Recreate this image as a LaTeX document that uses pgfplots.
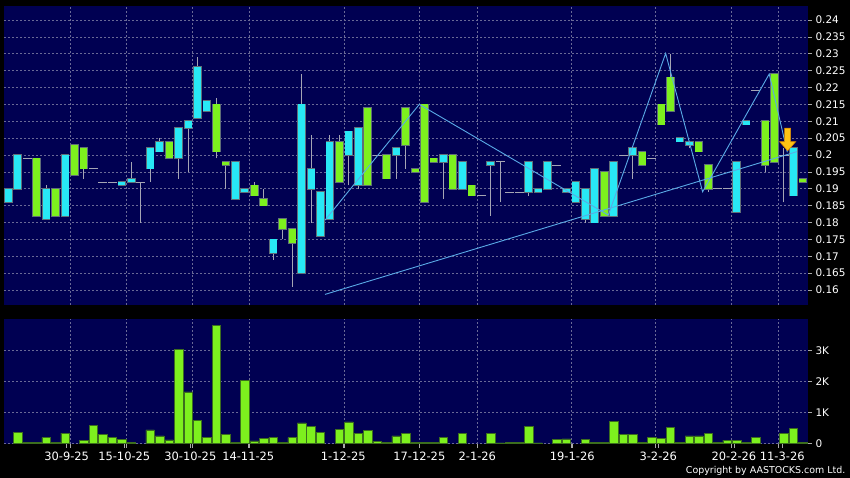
\documentclass[border=0pt]{standalone}
\usepackage{pgfplots}
\pgfplotsset{compat=1.18}
\usepackage{pgfplotstable}
\usepackage{fontspec}
\setmainfont{DejaVu Sans}

\definecolor{navy}{RGB}{0,0,82}
\definecolor{gridc}{RGB}{105,105,150}
\definecolor{cyanc}{RGB}{40,232,245}
\definecolor{greenc}{RGB}{125,240,30}
\definecolor{bordc}{RGB}{95,110,120}
\definecolor{wickc}{RGB}{165,165,180}
\definecolor{trendc}{RGB}{90,170,230}
\definecolor{volb}{RGB}{60,110,30}
\definecolor{tickc}{RGB}{170,170,170}
\definecolor{arrowc}{RGB}{255,196,20}
\definecolor{arrowd}{RGB}{220,140,0}

\pgfdeclareplotmark{dnarrow}{%
  \pgfpathmoveto{\pgfqpoint{0bp}{0bp}}%
  \pgfpathlineto{\pgfqpoint{8bp}{9bp}}%
  \pgfpathlineto{\pgfqpoint{3bp}{9bp}}%
  \pgfpathlineto{\pgfqpoint{3bp}{22.5bp}}%
  \pgfpathlineto{\pgfqpoint{-3bp}{22.5bp}}%
  \pgfpathlineto{\pgfqpoint{-3bp}{9bp}}%
  \pgfpathlineto{\pgfqpoint{-8bp}{9bp}}%
  \pgfpathclose
  \pgfusepathqfillstroke
}

% cyan candle bodies: index, body low, body high
\pgfplotstableread{
i lo hi
0 0.186 0.190
1 0.190 0.200
4 0.181 0.190
6 0.182 0.200
12 0.191 0.192
13 0.192 0.193
15 0.196 0.202
16 0.201 0.204
18 0.199 0.208
19 0.208 0.210
20 0.211 0.226
21 0.213 0.216
24 0.187 0.198
25 0.189 0.190
28 0.171 0.175
31 0.165 0.215
32 0.190 0.196
33 0.176 0.189
34 0.181 0.204
36 0.200 0.207
37 0.191 0.208
41 0.200 0.202
46 0.198 0.200
48 0.190 0.198
51 0.197 0.198
55 0.189 0.198
56 0.189 0.190
57 0.190 0.198
59 0.189 0.190
60 0.186 0.192
61 0.181 0.190
62 0.180 0.196
64 0.182 0.198
66 0.200 0.202
71 0.204 0.205
72 0.203 0.204
77 0.183 0.198
78 0.209 0.210
83 0.188 0.202
}\cyanB

% green candle bodies
\pgfplotstableread{
i lo hi
3 0.182 0.199
5 0.182 0.190
7 0.194 0.203
8 0.196 0.202
17 0.199 0.204
22 0.201 0.215
23 0.197 0.198
26 0.188 0.191
27 0.185 0.187
29 0.178 0.181
30 0.174 0.178
35 0.192 0.204
38 0.191 0.214
40 0.193 0.200
42 0.203 0.214
43 0.195 0.196
44 0.186 0.215
45 0.198 0.199
47 0.190 0.200
49 0.188 0.191
63 0.182 0.195
67 0.197 0.201
69 0.209 0.215
70 0.213 0.223
73 0.201 0.204
74 0.190 0.197
80 0.197 0.210
81 0.198 0.224
84 0.192 0.193
}\greenB

% wicks: index, low, high
\pgfplotstableread{
i lo hi
4 0.181 0.191
8 0.193 0.202
13 0.192 0.198
14 0.180 0.192
15 0.192 0.202
16 0.201 0.205
18 0.193 0.208
19 0.195 0.210
20 0.211 0.229
22 0.199 0.217
23 0.190 0.198
26 0.188 0.192
27 0.185 0.190
28 0.169 0.175
29 0.175 0.181
30 0.161 0.178
31 0.165 0.224
32 0.180 0.206
34 0.181 0.206
35 0.192 0.206
36 0.191 0.207
37 0.190 0.208
41 0.193 0.202
42 0.196 0.214
46 0.187 0.200
51 0.182 0.198
52 0.186 0.198
55 0.188 0.198
61 0.180 0.190
66 0.193 0.202
70 0.213 0.230
72 0.202 0.204
74 0.189 0.197
80 0.195 0.210
82 0.186 0.202
}\wicks

% flat candles (open = close)
\pgfplotstableread{
i v
2 0.199
9 0.196
10 0.192
11 0.192
14 0.192
39 0.200
50 0.188
52 0.198
53 0.189
54 0.189
58 0.197
65 0.200
68 0.199
75 0.190
76 0.190
79 0.219
82 0.200
}\dojis

% volume in thousands
\pgfplotstableread{
i v
1 0.35
2 0.02
3 0.04
4 0.18
5 0.04
6 0.33
8 0.09
9 0.57
10 0.29
11 0.20
12 0.13
13 0.03
15 0.43
16 0.24
17 0.11
18 3.03
19 1.66
20 0.75
21 0.18
22 3.81
23 0.29
24 0.02
25 2.04
26 0.08
27 0.15
28 0.18
29 0.02
30 0.18
31 0.66
32 0.54
33 0.34
35 0.44
36 0.69
37 0.31
38 0.42
39 0.06
40 0.02
41 0.24
42 0.32
43 0.04
44 0.02
45 0.03
46 0.20
48 0.33
51 0.33
52 0.01
53 0.02
54 0.02
55 0.55
56 0.01
58 0.12
59 0.14
61 0.12
62 0.03
63 0.03
64 0.70
65 0.28
66 0.28
67 0.03
68 0.20
69 0.17
70 0.52
71 0.02
72 0.24
73 0.24
74 0.32
75 0.02
76 0.10
77 0.10
78 0.02
79 0.20
82 0.31
83 0.49
84 0.02
}\vol

\pgfplotsset{
  chartbase/.style={
    scale only axis, width=804bp, anchor=south west,
    xmin=-0.455, xmax=84.54,
    axis background/.style={fill=navy},
    axis line style={draw=none},
    grid style={gridc, dash pattern=on 2bp off 2bp, line width=0.6bp},
    tick align=outside, major tick length=4bp,
    ytick pos=right, yticklabel pos=right,
    ytick style={draw=tickc, line width=0.6bp},
    yticklabel style={text=white, font=\fontsize{10.5}{12}\selectfont},
  },
}

\begin{document}
\begin{tikzpicture}
\path[use as bounding box, fill=black] (0,0) rectangle (850bp,478bp);

\begin{axis}[chartbase,
  at={(4bp,173bp)}, height=299bp,
  ymin=0.15556, ymax=0.24415,
  xtick={6.52,12.44,19.42,25.44,35.49,43.41,49.54,59.48,68.36,76.4,81.36},
  xticklabels={}, xtick style={draw=none},
  xmajorgrids, ymajorgrids,
  ytick={0.16,0.165,0.17,0.175,0.18,0.185,0.19,0.195,0.2,0.205,0.21,0.215,0.22,0.225,0.23,0.235,0.24},
  yticklabels={0.16,0.165,0.17,0.175,0.18,0.185,0.19,0.195,0.2,0.205,0.21,0.215,0.22,0.225,0.23,0.235,0.24},
]
% wicks
\addplot[draw=none, mark=none, forget plot,
  error bars/.cd, y dir=plus, y explicit, error mark=none,
  error bar style={draw=wickc, line width=1bp}]
  table[x=i, y=lo, y error expr=\thisrow{hi}-\thisrow{lo}] {\wicks};
% flat candles
\addplot[draw=none, mark=none, forget plot,
  error bars/.cd, x dir=both, x fixed=0.48, error mark=none,
  error bar style={draw=wickc, line width=1bp}]
  table[x=i, y=v] {\dojis};
% body borders
\addplot[draw=none, mark=none, forget plot,
  error bars/.cd, y dir=plus, y explicit, error mark=none,
  error bar style={draw=bordc, line width=8.6bp}]
  table[x=i, y expr=\thisrow{lo}-0.00025, y error expr=\thisrow{hi}-\thisrow{lo}+0.0005] {\cyanB};
\addplot[draw=none, mark=none, forget plot,
  error bars/.cd, y dir=plus, y explicit, error mark=none,
  error bar style={draw=bordc, line width=8.6bp}]
  table[x=i, y expr=\thisrow{lo}-0.00025, y error expr=\thisrow{hi}-\thisrow{lo}+0.0005] {\greenB};
% body fills
\addplot[draw=none, mark=none, forget plot,
  error bars/.cd, y dir=plus, y explicit, error mark=none,
  error bar style={draw=cyanc, line width=7bp}]
  table[x=i, y=lo, y error expr=\thisrow{hi}-\thisrow{lo}] {\cyanB};
\addplot[draw=none, mark=none, forget plot,
  error bars/.cd, y dir=plus, y explicit, error mark=none,
  error bar style={draw=greenc, line width=7bp}]
  table[x=i, y=lo, y error expr=\thisrow{hi}-\thisrow{lo}] {\greenB};
% trend lines
\addplot[trendc, line width=0.9bp, mark=none] coordinates {
  (33.48,0.1807) (43.45,0.2150) (63.43,0.1822) (69.49,0.2301)
  (73.40,0.1891) (80.44,0.2240) (82.35,0.2008)};
\addplot[trendc, line width=0.9bp, mark=none] coordinates {
  (33.48,0.1587) (83.37,0.2010)};
% signal arrow
\addplot[only marks, mark=dnarrow, mark options={fill=arrowc, draw=arrowd, line width=0.6bp}]
  coordinates {(82.39,0.20127)};
\end{axis}

\begin{axis}[chartbase,
  at={(4bp,34bp)}, height=125bp,
  ymin=-0.023, ymax=4.01,
  xtick pos=bottom,
  xtick={6.17,12.26,19.24,25.37,35.41,43.45,49.58,59.62,68.71,76.71,81.82},
  xticklabels={30-9-25,15-10-25,30-10-25,14-11-25,1-12-25,17-12-25,2-1-26,19-1-26,3-2-26,20-2-26,11-3-26},
  xtick style={draw=tickc, line width=0.6bp},
  xticklabel style={text=white, font=\fontsize{11.5}{13}\selectfont, yshift=-0.5bp},
  extra x ticks={6.52,12.44,19.42,25.44,35.49,43.41,49.54,59.48,68.36,76.4,81.36},
  extra x tick labels={},
  extra x tick style={grid=major, tick style={draw=none}},
  ymajorgrids,
  ytick={0,1,2,3}, yticklabels={0,1K,2K,3K},
]
\addplot[ybar, bar width=0.9, bar shift=0pt, fill=greenc, draw=volb, line width=0.5bp]
  table[x=i, y=v] {\vol};
\end{axis}

\node[anchor=base east, text=white, font=\fontsize{9.5}{11}\selectfont, inner sep=0pt]
  at (845.5bp,4.5bp) {Copyright by AASTOCKS.com Ltd.};
\end{tikzpicture}
\end{document}
